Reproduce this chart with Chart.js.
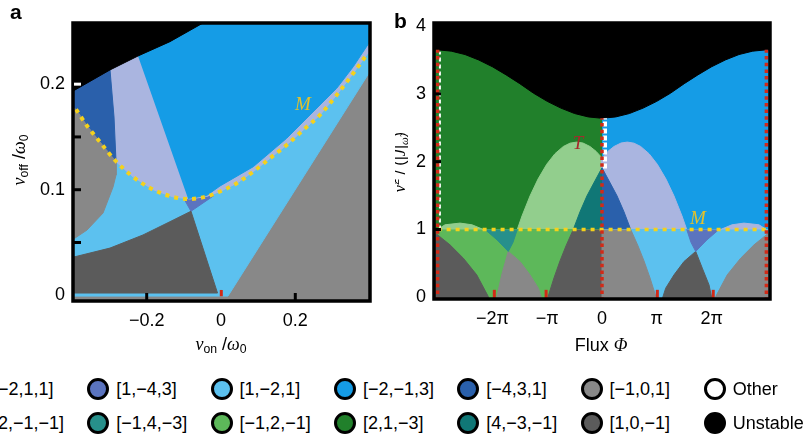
<!DOCTYPE html>
<html>
<head>
<meta charset="utf-8">
<title>Phase diagrams a / b</title>
<script src="https://cdn.jsdelivr.net/npm/chart.js@4.4.1/dist/chart.umd.min.js"></script>
<style>
  html, body { margin: 0; padding: 0; background: #fff; }
  body { position: relative; width: 812px; height: 439px; overflow: hidden;
         font-family: "Liberation Sans", Arial, Helvetica, sans-serif; color: #000; }
  canvas { position: absolute; top: 0; }
  #chartA { left: 0; }
  #chartB { left: 400px; }
  .t { position: absolute; white-space: nowrap; line-height: 1; }
  .c { transform: translate(-50%, -50%); }
  .m { font-family: "Liberation Serif", "DejaVu Serif", serif; font-style: italic; }
  .sub { font-size: 0.68em; vertical-align: -0.3em; }
  .sup { font-size: 0.68em; vertical-align: 0.55em; }
  .dot { position: absolute; width: 16px; height: 16px; border: 3px solid #000;
         border-radius: 50%; transform: translate(-50%, -50%); }
  .lab { position: absolute; font-size: 18px; line-height: 1; white-space: nowrap;
         transform: translateY(-50%); }
</style>
</head>
<body>
<canvas id="chartA" width="400" height="365"></canvas>
<canvas id="chartB" width="412" height="365"></canvas>

<div class="t" style="left:10px;top:1px;font-weight:bold;font-size:21px">a</div>
<div class="t" style="left:394px;top:10px;font-weight:bold;font-size:21px">b</div>

<div class="t c" style="left:221px;top:345px;font-size:18px"><span class="m">ν</span><span class="sub">on</span> /<span class="m">ω</span><span class="sub">0</span></div>
<div class="t" style="left:20px;top:160px;font-size:18px;transform:translate(-50%,-50%) rotate(-90deg)"><span class="m">ν</span><span class="sub">off</span> /<span class="m">ω</span><span class="sub">0</span></div>
<div class="t c" style="left:601px;top:345px;font-size:18px">Flux <span class="m">Φ</span></div>
<div style="position:absolute;left:395px;top:90px;width:20px;height:150px;overflow:hidden">
  <div class="t" style="left:5px;top:72px;font-size:16px;transform:translate(-50%,-50%) rotate(-90deg)"><span class="m">ν̃</span><span class="sup">2</span> / (|<span class="m">J̃</span>|<span class="sub m">ω̃</span>)</div>
</div>

<div class="t c m" style="left:303px;top:103px;font-size:19px;color:#e2c12c">M</div>
<div class="t c m" style="left:698px;top:217px;font-size:19px;color:#e2c12c">M</div>
<div class="t c m" style="left:578px;top:142px;font-size:19px;color:#a8282c">T</div>

<div id="legend"></div>

<script>
// ---------- panel a : (v_on, v_off) plane ----------
const A_X_RANGE = [-0.4011, 0.4038];
const A_Y_RANGE = [-0.0064, 0.2589];
const A_X_TICKS = [-0.2, 0, 0.2];
const A_X_LABELS = ['−0.2', '0', '0.2'];
const A_Y_TICKS = [0, 0.1, 0.2];
const A_Y_LABELS = ['0', '0.1', '0.2'];
const A_Y_MARKS = [0.05, 0.1, 0.15, 0.2];
const A_X_MARKS = [-0.2, 0.2];

const aGray = [[-0.45, -0.02], [0.45, -0.02], [0.45, 0.27], [-0.45, 0.27]];
const aLightBlue = [[-0.45, 0.27], [0.45, 0.27], [0.45, 0.2393], [0.0188, -0.0008], [-0.45, -0.0008]];
const aViolet = [[-0.1023, 0.0931], [-0.0808, 0.0796], [-0.0188, 0.0945], [-0.0431, 0.0969]];
const aLavender = [[-0.2988, 0.2135], [-0.2988, 0.27], [0.45, 0.27], [0.45, 0.2559], [0.3957, 0.2296],
  [0.3561, 0.2103], [0.3115, 0.1898], [0.2665, 0.1708], [0.2215, 0.1566], [0.1768, 0.1424],
  [0.1319, 0.1298], [0.0869, 0.1171], [0.0423, 0.1061], [-0.0027, 0.0983], [-0.0385, 0.0936],
  [-0.0834, 0.0912], [-0.1284, 0.0931], [-0.1822, 0.1000], [-0.2361, 0.1120], [-0.2826, 0.1266],
  [-0.2880, 0.1689]];
const aBlue = [[-0.2234, 0.2267], [-0.2234, 0.27], [0.45, 0.27], [0.45, 0.2663], [0.4038, 0.2419],
  [0.3561, 0.2166], [0.3115, 0.1961], [0.2665, 0.1803], [0.1768, 0.1487], [0.0869, 0.1218],
  [-0.0027, 0.1035], [-0.0385, 0.0945], [-0.0888, 0.0917]];
const aDarkBlue = [[-0.45, 0.27], [-0.2988, 0.27], [-0.2988, 0.2135], [-0.2880, 0.1689], [-0.2826, 0.1266],
  [-0.3257, 0.1452], [-0.3615, 0.1610], [-0.3903, 0.1762], [-0.45, 0.186]];
const aGrayLeft = [[-0.45, 0.186], [-0.3903, 0.1762], [-0.3615, 0.1610], [-0.3257, 0.1452], [-0.2826, 0.1266],
  [-0.2826, 0.1139], [-0.2907, 0.1025], [-0.3176, 0.0779], [-0.3607, 0.0618], [-0.3930, 0.0542], [-0.45, 0.050]];
const aDarkGray = [[-0.45, 0.0365], [-0.3930, 0.0365], [-0.2988, 0.0447], [-0.2100, 0.0571], [-0.1373, 0.0697],
  [-0.0808, 0.0796], [-0.0094, 0.0021], [-0.45, 0.0021]];
const aUnstable = [[-0.45, 0.27], [-0.45, 0.1929], [-0.4011, 0.1929], [-0.2988, 0.2135], [-0.2234, 0.2267],
  [-0.1373, 0.2403], [-0.0431, 0.2590], [-0.035, 0.27]];
const aLineM = [[-0.3903, 0.1762], [-0.3615, 0.1610], [-0.3257, 0.1452], [-0.2853, 0.1279], [-0.2361, 0.1120],
  [-0.1822, 0.1000], [-0.1284, 0.0931], [-0.0834, 0.0912], [-0.0385, 0.0936], [-0.0027, 0.0983],
  [0.0423, 0.1061], [0.0869, 0.1171], [0.1319, 0.1298], [0.1768, 0.1424], [0.2215, 0.1566],
  [0.2665, 0.1708], [0.3115, 0.1898], [0.3561, 0.2103], [0.3957, 0.2296]];
const aRedMark = [[0.0008, -0.001], [0.0008, 0.0050]];

// ---------- panel b : flux scan ----------
const B_X_RANGE = [-3.084, 3.084];           // in units of pi
const B_Y_RANGE = [-0.04, 4.06];
const B_X_TICKS = [-2, -1, 0, 1, 2];
const B_X_LABELS = ['−2π', '−π', '0', 'π', '2π'];
const B_Y_TICKS = [0, 1, 2, 3, 4];
const B_Y_LABELS = ['0', '1', '2', '3', '4'];
const B_Y_MARKS = [1, 2, 3];

const bGreenBg = [[-3.2, -0.1], [0, -0.1], [0, 4.2], [-3.2, 4.2]];
const bBlueBg = [[0, -0.1], [3.2, -0.1], [3.2, 4.2], [0, 4.2]];
const bUnstable = [[-3.2, 4.2], [3.2, 4.2], [3.2, 3.65], [3, 3.65], [2.75, 3.63], [2.5, 3.58], [2.25, 3.50],
  [2, 3.40], [1.75, 3.28], [1.5, 3.15], [1.25, 3.01], [1, 2.89], [0.75, 2.79], [0.5, 2.71], [0.25, 2.66],
  [0, 2.64], [-0.25, 2.66], [-0.5, 2.71], [-0.75, 2.79], [-1, 2.89], [-1.25, 3.01], [-1.5, 3.15],
  [-1.75, 3.28], [-2, 3.40], [-2.25, 3.50], [-2.5, 3.58], [-2.75, 3.63], [-3, 3.65], [-3.2, 3.65]];
const bLightGreenArch = [[-1.546, 1.0], [-1.460, 1.199], [-1.314, 1.494], [-1.168, 1.743], [-1.009, 1.962],
  [-0.858, 2.118], [-0.706, 2.224], [-0.584, 2.273], [-0.462, 2.289], [-0.347, 2.275], [-0.219, 2.224],
  [-0.109, 2.153], [0, 2.056], [0, 1.0]];
const bLavenderArch = [[1.546, 1.0], [1.460, 1.199], [1.314, 1.494], [1.168, 1.743], [1.009, 1.962],
  [0.858, 2.118], [0.706, 2.224], [0.584, 2.273], [0.462, 2.289], [0.347, 2.275], [0.219, 2.224],
  [0.109, 2.153], [0, 2.056], [0, 1.0]];
const bTealDark = [[0, 1.910], [-0.128, 1.718], [-0.274, 1.497], [-0.401, 1.261], [-0.524, 1.0], [0, 1.0]];
const bDarkBlue = [[0, 1.910], [0.128, 1.718], [0.274, 1.497], [0.401, 1.261], [0.524, 1.0], [0, 1.0]];
const bGreenBand = [[-3.2, 1.0], [0, 1.0], [0, -0.1], [-3.2, -0.1]];
const bLightBlueBand = [[0, 1.0], [3.2, 1.0], [3.2, -0.1], [0, -0.1]];
const bGreenBump = [[-3.0, 1.0], [-2.865, 1.069], [-2.591, 1.094], [-2.372, 1.069], [-2.166, 1.0]];
const bLavenderBump = [[3.0, 1.0], [2.865, 1.069], [2.591, 1.094], [2.372, 1.069], [2.166, 1.0]];
const bDarkGrayCorner = [[-3.2, 0.94], [-3.016, 0.931], [-2.774, 0.773], [-2.531, 0.577], [-2.286, 0.331],
  [-2.075, 0.010], [-2.062, -0.1], [-3.2, -0.1]];
const bGrayCorner = [[3.2, 0.94], [3.016, 0.931], [2.774, 0.773], [2.531, 0.577], [2.286, 0.331],
  [2.075, 0.010], [2.062, -0.1], [3.2, -0.1]];
const bGrayTriangle = [[-1.93, -0.1], [-1.92, 0.0], [-1.830, 0.331], [-1.710, 0.677], [-1.496, 0.527],
  [-1.314, 0.331], [-1.162, 0.134], [-1.065, -0.1]];
const bDarkGrayTriangle = [[1.07, -0.1], [1.162, 0.134], [1.314, 0.331], [1.496, 0.527], [1.710, 0.677],
  [1.830, 0.430], [1.953, 0.183], [2.0, 0.0], [2.01, -0.1]];
const bTealSmall = [[-2.135, 1.0], [-1.916, 0.847], [-1.710, 0.677], [-1.624, 0.81], [-1.546, 1.0]];
const bViolet = [[2.135, 1.0], [1.916, 0.847], [1.710, 0.677], [1.624, 0.81], [1.546, 1.0]];
const bDarkGrayCenter = [[-0.524, 1.0], [-0.657, 0.758], [-0.766, 0.537], [-0.876, 0.286], [-0.985, 0.006],
  [-1.004, -0.1], [0, -0.1], [0, 1.0]];
const bGrayCenter = [[0.524, 1.0], [0.657, 0.758], [0.766, 0.537], [0.876, 0.286], [0.985, 0.006],
  [1.004, -0.1], [0, -0.1], [0, 1.0]];
const bLineM = [[-3, 1], [3, 1]];
const bRedLines = [
  [[-3, -0.05], [-3, 3.65]],
  [[0, -0.05], [0, 2.64]],
  [[3, -0.05], [3, 3.65]]
];
const bRedMarksX = [-1.965, -1.02, 1.01, 2.03];
const bRedMarkY = [-0.05, 0.11];
const bOtherLeft = [[-2.958, 1.0], [-2.958, 3.62]];
const bOtherCenter = [[0.055, 1.9], [0.055, 2.64]];

// ---------- legend ----------
const LEGEND_ROW1 = ['[−2,1,1]', '[1,−4,3]', '[1,−2,1]', '[−2,−1,3]', '[−4,3,1]', '[−1,0,1]', 'Other'];
const LEGEND_ROW2 = ['[2,−1,−1]', '[−1,4,−3]', '[−1,2,−1]', '[2,1,−3]', '[4,−3,−1]', '[1,0,−1]', 'Unstable'];

const COLORS = {
  '[−2,1,1]': '#aab5e0', '[1,−4,3]': '#5b74bf', '[1,−2,1]': '#5cc1ef', '[−2,−1,3]': '#159ce6',
  '[−4,3,1]': '#2a60ab', '[−1,0,1]': '#888888', 'Other': '#ffffff',
  '[2,−1,−1]': '#92ce8d', '[−1,4,−3]': '#27908b', '[−1,2,−1]': '#5db85a', '[2,1,−3]': '#21802b',
  '[4,−3,−1]': '#107776', '[1,0,−1]': '#5b5b5b', 'Unstable': '#000000'
};
const YELLOW = '#f4d11c';
const RED = '#d22a17';

Chart.defaults.font.family = '"Liberation Sans", Arial, Helvetica, sans-serif';
Chart.defaults.font.size = 18;
Chart.defaults.color = '#000';

function area(points, color, order) {
  return {
    data: points.map(p => ({ x: p[0], y: p[1] })),
    fill: 'shape',
    backgroundColor: color,
    borderColor: color,
    borderWidth: 1,
    pointRadius: 0,
    tension: 0,
    order: order
  };
}

function stroke(points, color, width, dash, order, smooth) {
  return {
    data: points.map(p => ({ x: p[0], y: p[1] })),
    fill: false,
    borderColor: color,
    borderWidth: width,
    borderDash: dash,
    borderCapStyle: 'butt',
    pointRadius: 0,
    tension: smooth ? 0.4 : 0,
    cubicInterpolationMode: smooth ? 'monotone' : 'default',
    order: order
  };
}

// layer list: first entry is the bottom layer
function layers(list) {
  return list.map((l, i) => area(l[0], l[1], 100 - i));
}

// frame around the plot and short inward ticks
const frameTicks = {
  id: 'frameTicks',
  afterDatasetsDraw(chart, args, opts) {
    const { ctx, chartArea: a, scales } = chart;
    ctx.save();
    ctx.strokeStyle = '#000';
    ctx.lineWidth = 3.5;
    ctx.strokeRect(a.left + 1, a.top + 1, a.right - a.left - 2, a.bottom - a.top - 2);
    ctx.lineWidth = 3;
    (opts.yMarks || []).forEach(v => {
      const y = scales.y.getPixelForValue(v);
      ctx.strokeStyle = (opts.whiteY || []).includes(v) ? '#fff' : '#000';
      ctx.beginPath();
      ctx.moveTo(a.left + 2, y);
      ctx.lineTo(a.left + 2 + opts.len, y);
      ctx.stroke();
    });
    ctx.strokeStyle = '#000';
    (opts.xMarks || []).forEach(v => {
      const x = scales.x.getPixelForValue(v);
      ctx.beginPath();
      ctx.moveTo(x, a.bottom - 2);
      ctx.lineTo(x, a.bottom - 2 - opts.len);
      ctx.stroke();
    });
    ctx.restore();
  }
};

function axes(xr, yr, xt, xl, yt, yl, yWidth, xHeight) {
  return {
    x: {
      type: 'linear', min: xr[0], max: xr[1],
      afterBuildTicks: s => { s.ticks = xt.map(v => ({ value: v })); },
      afterFit: s => { s.height = xHeight; },
      grid: { display: false, drawTicks: false },
      border: { display: false },
      ticks: { padding: 8, autoSkip: false, maxRotation: 0, callback: (v, i) => xl[i] }
    },
    y: {
      type: 'linear', min: yr[0], max: yr[1],
      afterBuildTicks: s => { s.ticks = yt.map(v => ({ value: v })); },
      afterFit: s => { s.width = yWidth; },
      grid: { display: false, drawTicks: false },
      border: { display: false },
      ticks: { padding: 7, autoSkip: false, callback: (v, i) => yl[i] }
    }
  };
}

const baseOptions = {
  responsive: false,
  animation: false,
  devicePixelRatio: 1,
  events: [],
  plugins: { legend: { display: false }, tooltip: { enabled: false } }
};

// panel a
new Chart(document.getElementById('chartA'), {
  type: 'line',
  data: {
    datasets: [
      ...layers([
        [aGray, COLORS['[−1,0,1]']],
        [aLightBlue, COLORS['[1,−2,1]']],
        [aViolet, COLORS['[1,−4,3]']],
        [aLavender, COLORS['[−2,1,1]']],
        [aBlue, COLORS['[−2,−1,3]']],
        [aDarkBlue, COLORS['[−4,3,1]']],
        [aGrayLeft, COLORS['[−1,0,1]']],
        [aDarkGray, COLORS['[1,0,−1]']],
        [aUnstable, COLORS['Unstable']]
      ]),
      stroke(aLineM, YELLOW, 4, [4, 5], 2, true),
      stroke(aRedMark, RED, 3, [], 1, false)
    ]
  },
  options: {
    ...baseOptions,
    layout: { padding: { top: 22, right: 29, left: 0, bottom: 0 } },
    scales: axes(A_X_RANGE, A_Y_RANGE, A_X_TICKS, A_X_LABELS, A_Y_TICKS, A_Y_LABELS, 72, 63),
    plugins: {
      ...baseOptions.plugins,
      frameTicks: { yMarks: A_Y_MARKS, whiteY: [0.2], xMarks: A_X_MARKS, len: 7 }
    }
  },
  plugins: [frameTicks]
});

// panel b
new Chart(document.getElementById('chartB'), {
  type: 'line',
  data: {
    datasets: [
      ...layers([
        [bGreenBg, COLORS['[2,1,−3]']],
        [bBlueBg, COLORS['[−2,−1,3]']],
        [bUnstable, COLORS['Unstable']],
        [bLightGreenArch, COLORS['[2,−1,−1]']],
        [bLavenderArch, COLORS['[−2,1,1]']],
        [bTealDark, COLORS['[4,−3,−1]']],
        [bDarkBlue, COLORS['[−4,3,1]']],
        [bGreenBand, COLORS['[−1,2,−1]']],
        [bLightBlueBand, COLORS['[1,−2,1]']],
        [bGreenBump, COLORS['[2,−1,−1]']],
        [bLavenderBump, COLORS['[−2,1,1]']],
        [bDarkGrayCorner, COLORS['[1,0,−1]']],
        [bGrayCorner, COLORS['[−1,0,1]']],
        [bGrayTriangle, COLORS['[−1,0,1]']],
        [bDarkGrayTriangle, COLORS['[1,0,−1]']],
        [bTealSmall, COLORS['[−1,4,−3]']],
        [bViolet, COLORS['[1,−4,3]']],
        [bDarkGrayCenter, COLORS['[1,0,−1]']],
        [bGrayCenter, COLORS['[−1,0,1]']]
      ]),
      stroke(bOtherLeft, '#ffffff', 2, [4, 3], 6, false),
      stroke(bOtherCenter, '#ffffff', 4, [5, 2], 5, false),
      stroke(bLineM, YELLOW, 3.5, [4, 5], 4, false),
      ...bRedLines.map(l => stroke(l, RED, 3.5, [3.5, 3.2], 3, false)),
      ...bRedMarksX.map(x => stroke(bRedMarkY.map(y => [x, y]), RED, 3, [], 2, false))
    ]
  },
  options: {
    ...baseOptions,
    layout: { padding: { top: 22, right: 41, left: 0, bottom: 0 } },
    scales: axes(B_X_RANGE, B_Y_RANGE, B_X_TICKS, B_X_LABELS, B_Y_TICKS, B_Y_LABELS, 33, 65),
    plugins: {
      ...baseOptions.plugins,
      frameTicks: { yMarks: B_Y_MARKS, xMarks: [], len: 6 }
    }
  },
  plugins: [frameTicks]
});

// legend (two rows, seven columns)
const legend = document.getElementById('legend');
[[LEGEND_ROW1, 389], [LEGEND_ROW2, 422.5]].forEach(([row, cy]) => {
  row.forEach((name, i) => {
    const cx = -25 + 123.3 * i;
    const dot = document.createElement('div');
    dot.className = 'dot';
    dot.style.left = cx + 'px';
    dot.style.top = cy + 'px';
    dot.style.background = COLORS[name];
    legend.appendChild(dot);
    const lab = document.createElement('div');
    lab.className = 'lab';
    lab.style.left = (cx + 18) + 'px';
    lab.style.top = cy + 'px';
    lab.textContent = name;
    legend.appendChild(lab);
  });
});
</script>
</body>
</html>
